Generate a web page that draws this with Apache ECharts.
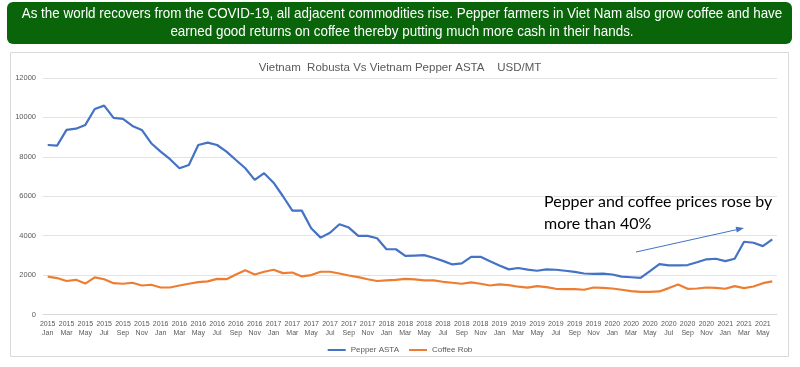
<!DOCTYPE html>
<html>
<head>
<meta charset="utf-8">
<script src="https://cdn.jsdelivr.net/npm/echarts@6/dist/echarts.min.js"></script>
<style>
html,body{margin:0;padding:0;background:#fff;}
#chart{width:800px;height:367px;}
</style>
</head>
<body>
<div id="chart"></div>
<script>
const years = ['2015','2016','2017','2018','2019','2020','2021'];
const months = ['Jan','Feb','Mar','Apr','May','Jun','Jul','Aug','Sep','Oct','Nov','Dec'];
const lastYearMonths = 6;

const pepperASTA = [
  8600, 8570, 9370, 9430, 9620, 10430, 10600, 9975, 9925, 9570, 9365, 8690,
  8265, 7880, 7420, 7590, 8600, 8720, 8600, 8265, 7840, 7420, 6830, 7170,
  6690, 6000, 5270, 5270, 4380, 3900, 4150, 4580, 4410, 3990, 3990, 3870,
  3310, 3310, 2970, 2990, 3010, 2880, 2720, 2540, 2590, 2920, 2930, 2700,
  2490, 2290, 2360, 2280, 2220, 2290, 2270, 2220, 2160, 2080, 2060, 2070,
  2030, 1920, 1890, 1860, 2200, 2560, 2490, 2490, 2510, 2650, 2800, 2830,
  2710, 2830, 3690, 3640, 3470, 3810
];
const coffeeRob = [
  1920, 1850, 1700, 1760, 1570, 1880, 1790, 1590, 1560, 1610, 1470, 1510,
  1370, 1370, 1470, 1560, 1640, 1680, 1810, 1790, 2030, 2240, 2030, 2170,
  2270, 2100, 2130, 1930, 2000, 2170, 2170, 2080, 1980, 1900, 1790, 1700,
  1730, 1760, 1810, 1780, 1730, 1730, 1660, 1610, 1560, 1630, 1560, 1470,
  1525, 1490, 1410, 1360, 1440, 1390, 1305, 1290, 1290, 1255, 1370, 1355,
  1320, 1255, 1185, 1150, 1150, 1170, 1340, 1525, 1305, 1320, 1370, 1355,
  1305, 1440, 1340, 1420, 1590, 1680
];

const bannerLines = [
  'As the world recovers from the COVID-19, all adjacent commodities rise. Pepper farmers in Viet Nam also grow coffee and have',
  'earned good returns on coffee thereby putting much more cash in their hands.'
];
const chartTitle = 'Vietnam  Robusta Vs Vietnam Pepper ASTA    USD/MT';
const annotation = 'Pepper and coffee prices rose by\nmore than 40%';

const categories = [];
years.forEach(function (y, i) {
  const n = (i === years.length - 1) ? lastYearMonths : 12;
  for (let m = 0; m < n; m++) categories.push(y + '\n' + months[m]);
});

const chart = echarts.init(document.getElementById('chart'), null, {renderer: 'canvas'});
const font = '"Liberation Sans", Arial, sans-serif';
const bannerFont = '15px "Liberation Sans", Arial, sans-serif';

chart.setOption({
  animation: false,
  backgroundColor: '#ffffff',
  title: {
    text: chartTitle,
    left: 'center',
    top: 57,
    textStyle: {fontSize: 11.5, fontWeight: 'normal', color: '#595959', fontFamily: font}
  },
  legend: {
    left: 'center',
    top: 341,
    itemWidth: 18,
    itemHeight: 2,
    itemGap: 10,
    icon: 'rect',
    textStyle: {fontSize: 8, color: '#595959', fontFamily: font},
    data: ['Pepper ASTA', 'Coffee Rob']
  },
  grid: {left: 43, right: 23, top: 78, bottom: 52.5, containLabel: false},
  xAxis: {
    type: 'category',
    data: categories,
    boundaryGap: true,
    axisLine: {show: true, lineStyle: {color: '#d9d9d9'}},
    axisTick: {show: false},
    axisLabel: {interval: 1, fontSize: 7, color: '#595959', lineHeight: 9, margin: 5, fontFamily: font, hideOverlap: false}
  },
  yAxis: {
    type: 'value',
    min: 0,
    max: 12000,
    interval: 2000,
    axisLine: {show: false},
    axisTick: {show: false},
    axisLabel: {fontSize: 7.5, color: '#595959', margin: 7, fontFamily: font, formatter: function (v) { return String(v); }},
    splitLine: {lineStyle: {color: '#e3e3e3', width: 1}}
  },
  series: [
    {
      name: 'Pepper ASTA', type: 'line', data: pepperASTA,
      symbol: 'none', lineStyle: {color: '#4472C4', width: 2.2}, itemStyle: {color: '#4472C4'}
    },
    {
      name: 'Coffee Rob', type: 'line', data: coffeeRob,
      symbol: 'none', lineStyle: {color: '#ED7D31', width: 2.2}, itemStyle: {color: '#ED7D31'}
    }
  ],
  graphic: [
    {
      type: 'rect', z: -10, silent: true,
      shape: {x: 10.5, y: 52.5, width: 778, height: 304},
      style: {fill: '#ffffff', stroke: '#d9d9d9', lineWidth: 1}
    },
    {
      type: 'rect', z: 0,
      shape: {x: 7, y: 2, width: 785, height: 42, r: 6},
      style: {fill: '#0a650a'}
    },
    {
      type: 'text', z: 1, x: 402, y: 14, scaleX: 0.895,
      style: {text: bannerLines[0], fill: '#ffffff', font: bannerFont, align: 'center', verticalAlign: 'middle'}
    },
    {
      type: 'text', z: 1, x: 402, y: 32, scaleX: 0.895,
      style: {text: bannerLines[1], fill: '#ffffff', font: bannerFont, align: 'center', verticalAlign: 'middle'}
    },
    {
      type: 'text', z: 5, x: 544, y: 191,
      style: {text: annotation, fill: '#000000', font: '16px Lato, sans-serif', lineHeight: 22, align: 'left', verticalAlign: 'top'}
    },
    {
      type: 'line', z: 5,
      shape: {x1: 636, y1: 252, x2: 736.5, y2: 229.7},
      style: {stroke: '#4472C4', lineWidth: 1}
    },
    {
      type: 'polygon', z: 5,
      shape: {points: [[744, 228], [736.8, 232.6], [735.6, 226.8]]},
      style: {fill: '#4472C4'}
    }
  ]
});
</script>
</body>
</html>
